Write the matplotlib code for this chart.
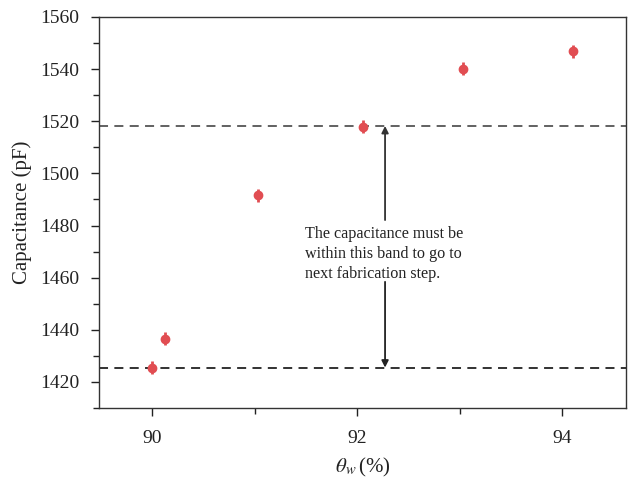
import matplotlib
matplotlib.use("Agg")
import matplotlib.pyplot as plt
from matplotlib.ticker import MultipleLocator

theta_w = [90.0, 90.12, 91.03, 92.05, 93.03, 94.1]
capacitance = [1425.5, 1436.6, 1491.7, 1517.9, 1540.2, 1546.8]
cap_err = [2.5, 2.5, 2.5, 2.5, 2.5, 2.5]
band_low = 1425.5
band_high = 1518.2
annotation = "The capacitance must be\nwithin this band to go to\nnext fabrication step."

plt.rcParams['font.family'] = ['Liberation Serif', 'DejaVu Serif']
plt.rcParams['mathtext.fontset'] = 'stix'
fig = plt.figure(figsize=(6.29, 4.78), dpi=100)
ax = fig.add_axes([99/629, 1-408/478, (626-99)/629, (408-17)/478])

ax.errorbar(theta_w, capacitance, yerr=cap_err, fmt='o', color='#e14d52',
            ms=6, elinewidth=2, capsize=0, zorder=3)
ax.axhline(band_high, color='#555555', ls=(0, (5, 3.5)), lw=1.3)
ax.axhline(band_low, color='#222222', ls=(0, (5, 3.5)), lw=1.3)

ax.annotate('', xy=(92.27, band_high), xytext=(92.27, 1482.1),
            arrowprops=dict(arrowstyle='-|>', color='#333333', lw=1.3,
                            mutation_scale=10, shrinkA=0, shrinkB=0))
ax.annotate('', xy=(92.27, band_low), xytext=(92.27, 1458.4),
            arrowprops=dict(arrowstyle='-|>', color='#222222', lw=1.3,
                            mutation_scale=10, shrinkA=0, shrinkB=0))
ax.text(91.49, 1469.0, annotation, fontsize=11.6, ha='left', va='center',
        linespacing=1.35, color='#222222')

ax.set_xlim(89.48, 94.62)
ax.set_ylim(1410, 1560)
ax.xaxis.set_major_locator(MultipleLocator(2))
ax.xaxis.set_minor_locator(MultipleLocator(1))
ax.yaxis.set_major_locator(MultipleLocator(20))
ax.yaxis.set_minor_locator(MultipleLocator(10))
ax.tick_params(which='major', length=6, width=1, labelsize=14, colors='#222222', pad=8)
ax.tick_params(axis='x', which='major', pad=10)
ax.tick_params(which='minor', length=4, width=1, colors='#222222')
for s in ax.spines.values():
    s.set_color('#333333')
    s.set_linewidth(1)
ax.set_xlabel(r'$\theta_w\,$(%)', fontsize=15, color='#222222', labelpad=6)
ax.set_ylabel('Capacitance (pF)', fontsize=15, color='#222222', labelpad=6)

fig.savefig('out.png', dpi=100)
